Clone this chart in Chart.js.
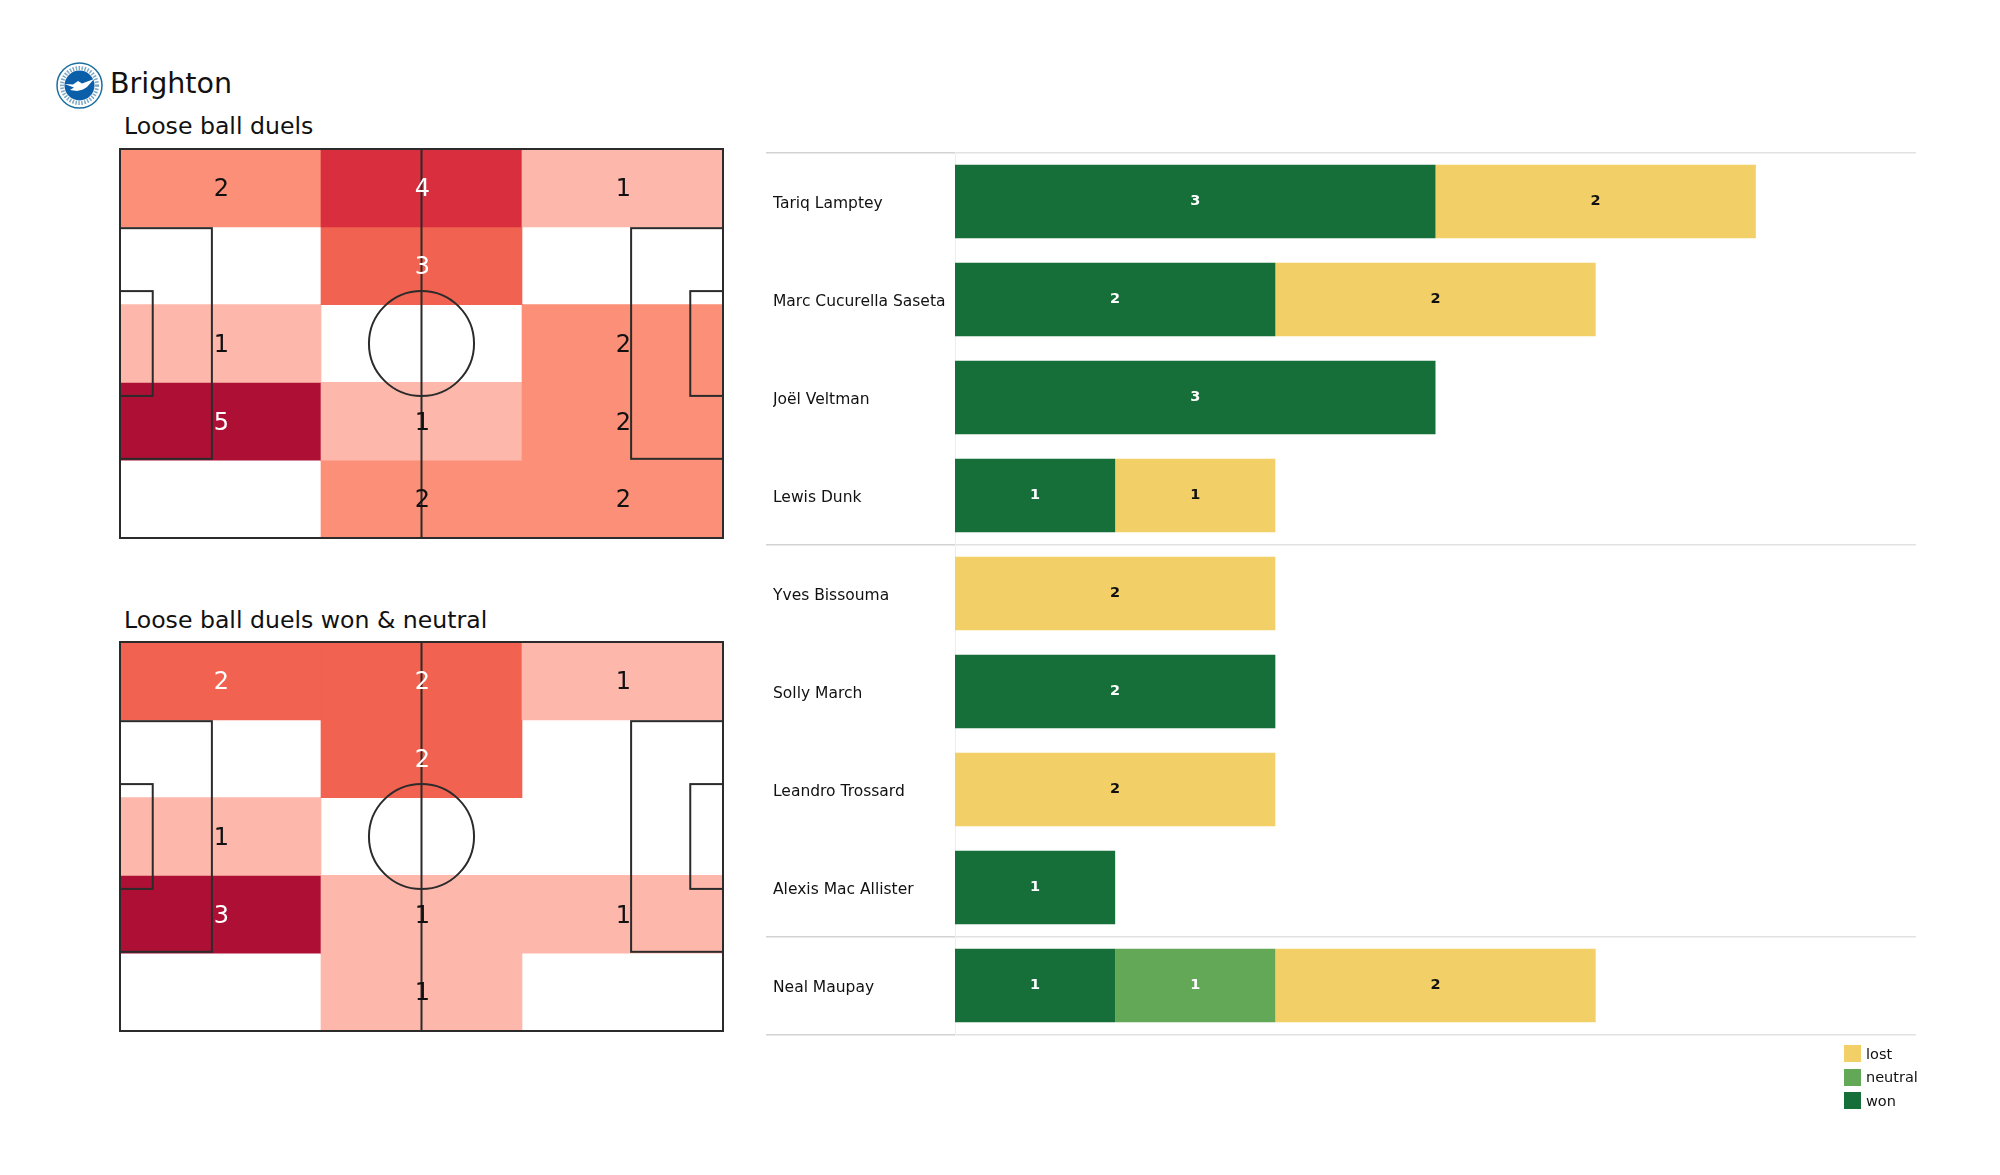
<!DOCTYPE html>
<html>
<head>
<meta charset="utf-8">
<title>Brighton loose ball duels</title>
<script src="https://cdn.jsdelivr.net/npm/chart.js@4/dist/chart.umd.min.js"></script>
<style>
  html, body { margin: 0; padding: 0; background: #fff; }
  body { width: 2000px; height: 1175px; position: relative; overflow: hidden; font-family: "DejaVu Sans", sans-serif; color: #111; }
  canvas { position: absolute; display: block; }
  .team { position: absolute; left: 110px; top: 67px; margin: 0; font-size: 28.5px; line-height: 34px; font-weight: normal; }
  .sub { position: absolute; left: 124px; margin: 0; font-size: 23.6px; line-height: 30px; font-weight: normal; }
  .crest { position: absolute; left: 56px; top: 62px; }
  .legend { position: absolute; left: 1844px; top: 1042px; font-size: 14.5px; }
  .legend__row { display: flex; align-items: center; height: 23.5px; }
  .legend__box { width: 17px; height: 17px; margin-right: 5px; }
</style>
</head>
<body>
<svg class="crest" width="47" height="47" viewBox="0 0 47 47">
  <circle cx="23.5" cy="23.5" r="22.5" fill="#fff" stroke="#1b6f9f" stroke-width="1.5"/>
  <circle cx="23.5" cy="23.5" r="17.5" fill="none" stroke="#7fa9c4" stroke-width="4" stroke-dasharray="1.5 1.5"/>
  <circle cx="23.5" cy="23.5" r="15" fill="#0b5fa8"/>
  <path d="M8.5 22 L17 22.5 L22 19 L26 21.5 L38 17 L31 25 L27 27.5 L21 29 L14 28 L18 25.5 Z" fill="#fff"/>
</svg>
<h1 class="team">Brighton</h1>
<h2 class="sub" style="top:111px">Loose ball duels</h2>
<h2 class="sub" style="top:605px">Loose ball duels won &amp; neutral</h2>

<canvas id="heat-all" style="left:110px;top:139px" width="623" height="409"></canvas>
<canvas id="heat-won" style="left:110px;top:632px" width="623" height="409"></canvas>
<canvas id="players" style="left:766px;top:142px" width="1152" height="902"></canvas>
<div class="legend" id="legend"></div>

<script>
const ZONE_COLUMNS = ['left', 'middle', 'right'];

// rows top to bottom, one value per column
const duelsAll = [
  [2, 4, 1],
  [0, 3, 0],
  [1, 0, 2],
  [5, 1, 2],
  [0, 2, 2],
];
const duelsWonNeutral = [
  [2, 2, 1],
  [0, 2, 0],
  [1, 0, 0],
  [3, 1, 1],
  [0, 1, 0],
];

const players = [
  'Tariq Lamptey',
  'Marc Cucurella Saseta',
  'Joël Veltman',
  'Lewis Dunk',
  'Yves Bissouma',
  'Solly March',
  'Leandro Trossard',
  'Alexis Mac Allister',
  'Neal Maupay',
];
const won = [3, 2, 3, 1, 0, 2, 0, 1, 1];
const neutral = [0, 0, 0, 0, 0, 0, 0, 0, 1];
const lost = [2, 2, 0, 1, 2, 0, 2, 0, 2];

const SHADES = ['#feb8ab', '#fc8f77', '#f26250', '#d82e3e', '#ae1035'];
const WON_COLOR = '#166e38';
const NEUTRAL_COLOR = '#62a857';
const LOST_COLOR = '#f2d067';
const FONT = '"DejaVu Sans", sans-serif';
const LINE_COLOR = '#2b2b2b';

Chart.defaults.animation = false;
Chart.defaults.responsive = false;
Chart.defaults.font.family = FONT;

// pitch markings in metres, placed through the hidden pitch scales
const pitchLines = {
  id: 'pitchLines',
  afterDatasetsDraw(chart) {
    const sx = chart.scales.pitchX;
    const sy = chart.scales.pitchY;
    const { ctx } = chart;
    const rect = (x0, y0, x1, y1) => {
      ctx.strokeRect(sx.getPixelForValue(x0), sy.getPixelForValue(y0),
        sx.getPixelForValue(x1) - sx.getPixelForValue(x0),
        sy.getPixelForValue(y1) - sy.getPixelForValue(y0));
    };
    ctx.save();
    ctx.strokeStyle = LINE_COLOR;
    ctx.lineWidth = 2;
    rect(0, 0, 105, 68);
    rect(0, 13.84, 16, 54.16);
    rect(89, 13.84, 105, 54.16);
    rect(0, 24.84, 5.7, 43.16);
    rect(99.3, 24.84, 105, 43.16);
    ctx.beginPath();
    ctx.moveTo(sx.getPixelForValue(52.5), sy.getPixelForValue(0));
    ctx.lineTo(sx.getPixelForValue(52.5), sy.getPixelForValue(68));
    ctx.stroke();
    ctx.beginPath();
    ctx.arc(sx.getPixelForValue(52.5), sy.getPixelForValue(34),
      sx.getPixelForValue(9.15) - sx.getPixelForValue(0), 0, Math.PI * 2);
    ctx.stroke();
    ctx.restore();
  },
};

// counts on top of the pitch lines
const heatLabels = {
  id: 'heatLabels',
  afterDraw(chart) {
    const { ctx } = chart;
    const rows = chart.config.options.plugins.heatLabels.rows;
    const shadeOf = chart.config.options.plugins.heatLabels.shadeOf;
    ctx.save();
    ctx.font = `24px ${FONT}`;
    ctx.textAlign = 'center';
    ctx.textBaseline = 'middle';
    rows.forEach((row, r) => {
      const meta = chart.getDatasetMeta(r);
      row.forEach((count, c) => {
        if (!count) return;
        const bar = meta.data[c].getCenterPoint();
        ctx.fillStyle = shadeOf[count] >= 2 ? '#fff' : '#111';
        ctx.fillText(String(count), bar.x + 1, bar.y + 2);
      });
    });
    ctx.restore();
  },
};

function mountHeat(id, rows, shadeOf) {
  new Chart(document.getElementById(id), {
    type: 'bar',
    data: {
      labels: ZONE_COLUMNS,
      datasets: rows.map((row, r) => ({
        data: row.map(() => [r, r + 1]),
        backgroundColor: row.map((count) => (count ? SHADES[shadeOf[count]] : 'rgba(0,0,0,0)')),
        borderWidth: 0,
        barPercentage: 1,
        categoryPercentage: 1,
        grouped: false,
      })),
    },
    options: {
      layout: { padding: { left: 10, right: 10, top: 10, bottom: 10 } },
      plugins: {
        legend: { display: false },
        tooltip: { enabled: false },
        heatLabels: { rows, shadeOf },
      },
      scales: {
        x: { display: false },
        y: { display: false, reverse: true, min: 0, max: rows.length },
        pitchX: { type: 'linear', axis: 'x', display: false, offset: false, min: 0, max: 105 },
        pitchY: { type: 'linear', axis: 'y', display: false, offset: false, min: 0, max: 68 },
      },
    },
    plugins: [pitchLines, heatLabels],
  });
}

// which shade each count takes on its own pitch
mountHeat('heat-all', duelsAll, { 1: 0, 2: 1, 3: 2, 4: 3, 5: 4 });
mountHeat('heat-won', duelsWonNeutral, { 1: 0, 2: 2, 3: 4 });

const barLabels = {
  id: 'barLabels',
  afterDatasetsDraw(chart) {
    const { ctx } = chart;
    ctx.save();
    ctx.font = `bold 14.5px ${FONT}`;
    ctx.textAlign = 'center';
    ctx.textBaseline = 'middle';
    chart.data.datasets.forEach((ds, i) => {
      chart.getDatasetMeta(i).data.forEach((bar, j) => {
        if (!ds.data[j]) return;
        const p = bar.getCenterPoint();
        ctx.fillStyle = ds.backgroundColor === LOST_COLOR ? '#111' : '#fff';
        ctx.fillText(String(ds.data[j]), p.x, p.y);
      });
    });
    ctx.restore();
  },
};

const isSeparator = (ctx) => ctx.index === undefined || [0, 4, 8].includes(ctx.index);

const seriesList = [
  { label: 'won', data: won, backgroundColor: WON_COLOR },
  { label: 'neutral', data: neutral, backgroundColor: NEUTRAL_COLOR },
  { label: 'lost', data: lost, backgroundColor: LOST_COLOR },
];

new Chart(document.getElementById('players'), {
  type: 'bar',
  data: {
    labels: players,
    datasets: seriesList.map((s) => ({ ...s, borderWidth: 0, barPercentage: 0.75, categoryPercentage: 1 })),
  },
  options: {
    indexAxis: 'y',
    layout: { padding: { left: 7, right: 2, top: 10.5, bottom: 9.5 } },
    plugins: { legend: { display: false }, tooltip: { enabled: false } },
    scales: {
      x: { display: false, stacked: true, min: 0, max: 6 },
      y: {
        stacked: true,
        afterFit(scale) {
          scale.width = 182;
          scale.paddingTop = 0;
          scale.paddingBottom = 0;
        },
        border: { color: '#eeeeee', width: 1 },
        grid: {
          color: (ctx) => (isSeparator(ctx) ? '#e2e2e2' : 'rgba(0,0,0,0)'),
          tickColor: (ctx) => (isSeparator(ctx) ? '#d2d2d2' : 'rgba(0,0,0,0)'),
          tickLength: 189,
          lineWidth: 1.5,
        },
        ticks: {
          crossAlign: 'far',
          color: '#111',
          font: { size: 15.5 },
          labelOffset: 2,
          autoSkip: false,
        },
      },
    },
  },
  plugins: [barLabels],
});

document.getElementById('legend').innerHTML = seriesList.slice().reverse().map((s) => `
  <div class="legend__row"><span class="legend__box" style="background:${s.backgroundColor}"></span>${s.label}</div>`).join('');
</script>
</body>
</html>
